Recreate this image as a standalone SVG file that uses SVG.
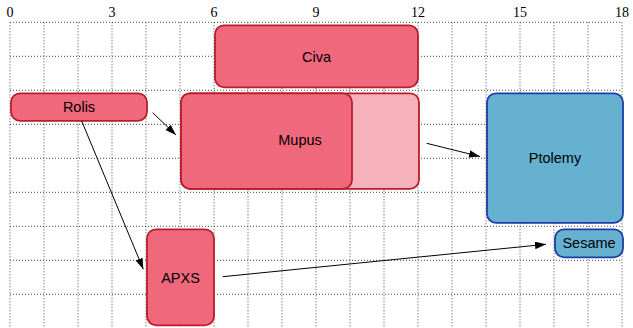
<svg xmlns="http://www.w3.org/2000/svg" width="633" height="328" viewBox="0 0 633 328">
<defs>
<style>
.grid line{stroke:#333;stroke-width:0.9;stroke-dasharray:1 2}
.ax{font-family:"Liberation Serif","DejaVu Serif",serif;font-size:14px;text-anchor:middle;fill:#000}
.red{fill:#ef687c;stroke:#b81d29;stroke-width:1.8}
.pink{fill:#f6b2bb;stroke:#b81d29;stroke-width:1.8}
.blue{fill:#67b1d0;stroke:#1a3ca8;stroke-width:1.8}
.lbl{font-family:"Liberation Sans","Arial",sans-serif;font-size:14.5px;text-anchor:middle;fill:#000}
.conn line{stroke:#000;stroke-width:1;marker-end:url(#ah)}
</style>
<marker id="ah" markerUnits="userSpaceOnUse" markerWidth="12" markerHeight="8" refX="11" refY="3.75" orient="auto">
<path d="M0,0 L11,3.75 L0,7.5 z" fill="#000"/>
</marker>
</defs>
<rect width="633" height="328" fill="#fff"/>
<g class="grid">
<line x1="10" y1="22.3" x2="10" y2="328"/><line x1="44" y1="22.3" x2="44" y2="328"/><line x1="78" y1="22.3" x2="78" y2="328"/><line x1="112" y1="22.3" x2="112" y2="328"/><line x1="146" y1="22.3" x2="146" y2="328"/><line x1="180" y1="22.3" x2="180" y2="328"/><line x1="214" y1="22.3" x2="214" y2="328"/><line x1="248" y1="22.3" x2="248" y2="328"/><line x1="282" y1="22.3" x2="282" y2="328"/><line x1="316" y1="22.3" x2="316" y2="328"/><line x1="350" y1="22.3" x2="350" y2="328"/><line x1="384" y1="22.3" x2="384" y2="328"/><line x1="418" y1="22.3" x2="418" y2="328"/><line x1="452" y1="22.3" x2="452" y2="328"/><line x1="486" y1="22.3" x2="486" y2="328"/><line x1="520" y1="22.3" x2="520" y2="328"/><line x1="554" y1="22.3" x2="554" y2="328"/><line x1="588" y1="22.3" x2="588" y2="328"/><line x1="622" y1="22.3" x2="622" y2="328"/>
<line x1="10" y1="22.3" x2="622" y2="22.3"/><line x1="10" y1="56.3" x2="622" y2="56.3"/><line x1="10" y1="90.3" x2="622" y2="90.3"/><line x1="10" y1="124.3" x2="622" y2="124.3"/><line x1="10" y1="158.3" x2="622" y2="158.3"/><line x1="10" y1="192.3" x2="622" y2="192.3"/><line x1="10" y1="226.3" x2="622" y2="226.3"/><line x1="10" y1="260.3" x2="622" y2="260.3"/><line x1="10" y1="294.3" x2="622" y2="294.3"/>
</g>
<g id="axis">
<text class="ax" x="10" y="17">0</text><text class="ax" x="112" y="17">3</text><text class="ax" x="214" y="17">6</text><text class="ax" x="316" y="17">9</text><text class="ax" x="418" y="17">12</text><text class="ax" x="520" y="17">15</text><text class="ax" x="622" y="17">18</text>
</g>
<g id="civa"><rect class="red" x="215" y="25.3" width="203" height="62" rx="9"/><text class="lbl" x="316.5" y="61.5">Civa</text></g>
<g id="rolis"><rect class="red" x="11" y="93.3" width="136" height="27.5" rx="9"/><text class="lbl" x="79" y="112">Rolis</text></g>
<g id="mupus"><rect class="pink" x="181" y="93.3" width="238" height="95.5" rx="9"/><rect class="red" x="181" y="93.3" width="171" height="95.5" rx="9"/><text class="lbl" x="300" y="145">Mupus</text></g>
<g id="ptolemy"><rect class="blue" x="487" y="93.3" width="136" height="129.5" rx="9"/><text class="lbl" x="555" y="162.5">Ptolemy</text></g>
<g id="sesame"><rect class="blue" x="555" y="229.3" width="68" height="28" rx="9"/><text class="lbl" x="589" y="248.3">Sesame</text></g>
<g id="apxs"><rect class="red" x="147" y="229.3" width="67" height="96" rx="9"/><text class="lbl" x="180.5" y="282.5">APXS</text></g>
<g class="conn">
<line x1="152.7" y1="112.7" x2="176" y2="135"/>
<line x1="81.7" y1="121" x2="143.3" y2="269.3"/>
<line x1="426.7" y1="143.3" x2="480" y2="156.5"/>
<line x1="222.7" y1="276.7" x2="546" y2="244.3"/>
</g>
</svg>
